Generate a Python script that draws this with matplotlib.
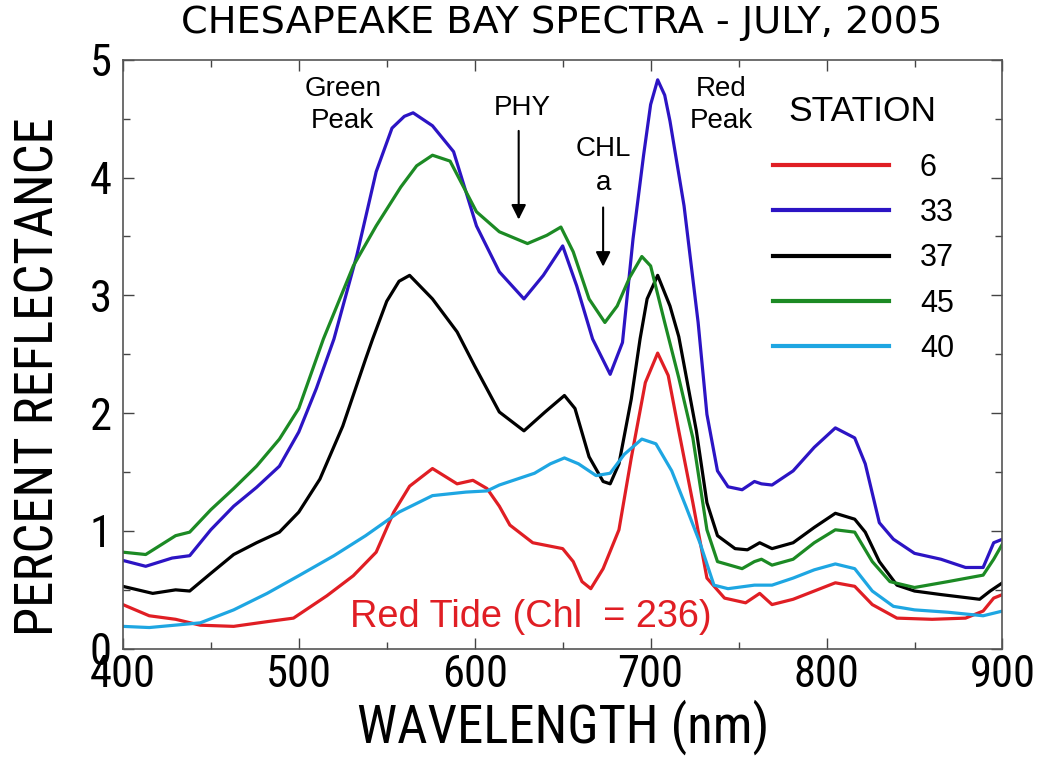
import matplotlib
matplotlib.use("Agg")
import matplotlib.pyplot as plt
from matplotlib.ticker import MultipleLocator

# wavelengths (nm) and percent reflectance
wl_6 = [400, 415, 430, 444, 463, 482, 497, 516, 531, 544, 554, 563, 576, 590, 599, 607,
        614, 620, 633, 650, 656, 661, 666, 673, 682, 689, 697, 704, 710, 716, 724, 732,
        742, 754, 762, 769, 781, 793, 805, 816, 826, 840, 860, 879, 889, 895, 900]
st_6 = [0.375, 0.28, 0.25, 0.20, 0.19, 0.23, 0.26, 0.45, 0.62, 0.82, 1.16, 1.38, 1.53, 1.40, 1.43, 1.36,
        1.21, 1.05, 0.90, 0.85, 0.74, 0.57, 0.51, 0.68, 1.01, 1.62, 2.26, 2.51, 2.32, 1.85, 1.24, 0.60,
        0.43, 0.39, 0.47, 0.375, 0.42, 0.49, 0.56, 0.53, 0.375, 0.26, 0.25, 0.26, 0.32, 0.43, 0.46]

wl_33 = [400, 413, 428, 438, 450, 463, 476, 489, 500, 510, 520, 533, 544, 553, 560, 565,
         576, 588, 601, 614, 628, 639, 650, 658, 667, 677, 684, 690, 696, 700, 704, 708,
         711, 719, 727, 732, 738, 744, 752, 759, 763, 769, 781, 793, 805, 816, 822, 830,
         838, 850, 865, 879, 889, 895, 900]
st_33 = [0.75, 0.70, 0.77, 0.79, 1.01, 1.21, 1.37, 1.55, 1.84, 2.21, 2.63, 3.34, 4.05, 4.42, 4.52, 4.55,
         4.44, 4.22, 3.59, 3.20, 2.97, 3.17, 3.42, 3.08, 2.63, 2.33, 2.60, 3.48, 4.19, 4.62, 4.83, 4.70,
         4.48, 3.76, 2.77, 1.99, 1.51, 1.375, 1.35, 1.42, 1.40, 1.39, 1.51, 1.71, 1.875, 1.79, 1.57, 1.07,
         0.93, 0.81, 0.76, 0.69, 0.69, 0.90, 0.93]

wl_37 = [400, 417, 430, 438, 450, 463, 476, 489, 500, 512, 525, 538, 542, 550, 557, 563,
         576, 590, 600, 614, 628, 640, 651, 657, 665, 673, 677, 682, 689, 694, 698, 704,
         711, 716, 726, 732, 738, 748, 755, 762, 769, 781, 793, 805, 816, 822, 830, 840,
         850, 865, 887, 893, 900]
st_37 = [0.53, 0.47, 0.50, 0.49, 0.64, 0.80, 0.90, 0.99, 1.16, 1.44, 1.89, 2.46, 2.63, 2.95, 3.12, 3.17,
         2.97, 2.69, 2.40, 2.01, 1.85, 2.01, 2.15, 2.04, 1.63, 1.42, 1.40, 1.57, 2.12, 2.63, 2.97, 3.17,
         2.91, 2.65, 1.85, 1.24, 0.96, 0.85, 0.84, 0.90, 0.85, 0.90, 1.03, 1.15, 1.10, 0.99, 0.74, 0.54,
         0.49, 0.46, 0.42, 0.49, 0.56]

wl_45 = [400, 413, 430, 438, 450, 463, 476, 489, 500, 514, 531, 544, 558, 567, 576, 586,
         601, 614, 630, 641, 649, 656, 665, 674, 681, 688, 695, 700, 708, 716, 724, 732,
         738, 752, 759, 763, 769, 781, 793, 805, 816, 826, 836, 850, 869, 889, 895, 900]
st_45 = [0.82, 0.80, 0.96, 0.99, 1.18, 1.36, 1.55, 1.78, 2.04, 2.63, 3.25, 3.59, 3.92, 4.10, 4.19, 4.14,
         3.71, 3.54, 3.44, 3.51, 3.58, 3.37, 2.97, 2.77, 2.91, 3.15, 3.33, 3.25, 2.77, 2.30, 1.79, 1.01,
         0.74, 0.68, 0.74, 0.76, 0.71, 0.76, 0.90, 1.01, 0.99, 0.74, 0.57, 0.52, 0.57, 0.625, 0.76, 0.89]

wl_40 = [400, 415, 444, 463, 482, 500, 520, 538, 557, 576, 595, 607, 614, 624, 634, 643,
         651, 659, 669, 677, 685, 695, 703, 712, 720, 728, 736, 744, 759, 769, 781, 793,
         805, 816, 826, 838, 850, 869, 889, 900]
st_40 = [0.19, 0.18, 0.22, 0.33, 0.47, 0.62, 0.79, 0.96, 1.16, 1.30, 1.33, 1.34, 1.39, 1.44, 1.49, 1.57,
         1.62, 1.57, 1.47, 1.49, 1.65, 1.78, 1.74, 1.51, 1.21, 0.90, 0.54, 0.51, 0.54, 0.54, 0.60, 0.67,
         0.72, 0.68, 0.49, 0.36, 0.33, 0.31, 0.28, 0.32]

stations = ["6", "33", "37", "45", "40"]
couleurs = ["#e01e24", "#2c14c4", "#000000", "#1c8a24", "#1ea6e2"]

narrow = ["Roboto Condensed", "PT Sans Narrow", "Archivo Narrow", "DejaVu Sans"]
plt.rcParams["font.family"] = ["Liberation Sans", "DejaVu Sans"]

fig = plt.figure(figsize=(10.41, 7.57), dpi=100)
ax = fig.add_axes([0.118, 0.143, 0.845, 0.778])

series = [(wl_6, st_6), (wl_33, st_33), (wl_37, st_37), (wl_45, st_45), (wl_40, st_40)]
for (x, y), nom, c in zip(series, stations, couleurs):
    ax.plot(x, y, color=c, lw=2.3, label=nom, solid_joinstyle="round")

ax.set_xlim(400, 900)
ax.set_ylim(0, 5)
ax.xaxis.set_major_locator(MultipleLocator(100))
ax.xaxis.set_minor_locator(MultipleLocator(50))
ax.yaxis.set_major_locator(MultipleLocator(1))
ax.yaxis.set_minor_locator(MultipleLocator(0.5))
ax.tick_params(which="both", direction="in", top=True, right=True, color="#444444")
ax.tick_params(which="major", length=8, width=1)
ax.tick_params(which="minor", length=5, width=1)
ax.tick_params(axis="x", labelsize=32, pad=4)
ax.tick_params(axis="y", labelsize=32, pad=8)
for lab in ax.get_xticklabels() + ax.get_yticklabels():
    lab.set_family(narrow)
for s in ax.spines.values():
    s.set_color("#555555")
    s.set_linewidth(1.2)

ax.set_xlabel("WAVELENGTH (nm)", fontsize=38, family=narrow, labelpad=2)
ax.set_ylabel("PERCENT REFLECTANCE", fontsize=38, family=narrow)
ax.yaxis.set_label_coords(-0.066, 0.462)
fig.text(0.54, 0.97, "CHESAPEAKE BAY SPECTRA - JULY, 2005", fontsize=27.5,
         family=["DejaVu Sans"], ha="center", va="center")

# annotations
ax.text(525, 4.62, "Green\nPeak", fontsize=20, ha="center", va="center", linespacing=1.3)
ax.text(627, 4.59, "PHY", fontsize=20, ha="center", va="center")
ax.annotate("", xy=(625, 3.62), xytext=(625, 4.42),
            arrowprops=dict(arrowstyle="-|>", color="black", lw=1.5, mutation_scale=22))
ax.text(673, 4.10, "CHL\na", fontsize=20, ha="center", va="center", linespacing=1.4)
ax.annotate("", xy=(673, 3.22), xytext=(673, 3.77),
            arrowprops=dict(arrowstyle="-|>", color="black", lw=1.5, mutation_scale=22))
ax.text(740, 4.62, "Red\nPeak", fontsize=20, ha="center", va="center", linespacing=1.3)
ax.text(632, 0.27, "Red Tide (Chl  = 236)", fontsize=27.4, color="#e01e24",
        ha="center", va="center")

# legend
ax.text(0.841, 0.912, "STATION", transform=ax.transAxes, fontsize=25.5,
        ha="center", va="center")
leg = ax.legend(loc="upper left", bbox_to_anchor=(0.722, 0.868),
                frameon=False, fontsize=22, handlelength=3.8,
                handletextpad=1.0, labelspacing=0.5, borderpad=0)
for line in leg.get_lines():
    line.set_linewidth(3)

fig.savefig("out.png", dpi=100)
